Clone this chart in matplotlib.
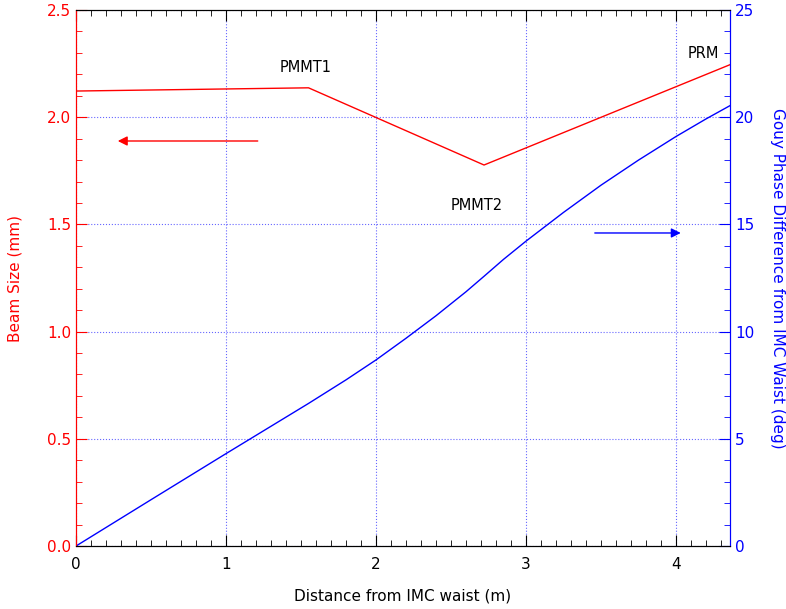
import numpy as np
import matplotlib.pyplot as plt
from matplotlib.ticker import MultipleLocator

# beam size (mm) vs distance from IMC waist (m)
dist_beam = [0.0, 1.55, 2.72, 4.36]
beam_size = [2.122, 2.137, 1.777, 2.245]

# gouy phase (deg)
dist_gouy = [0.0, 0.5, 1.0, 1.55, 1.8, 2.0, 2.2, 2.4, 2.6, 2.72, 2.85,
             3.0, 3.25, 3.5, 3.75, 4.0, 4.2, 4.36]
gouy_phase = [0.0, 2.16, 4.31, 6.65, 7.75, 8.68, 9.69, 10.74, 11.86, 12.58, 13.37,
              14.22, 15.56, 16.83, 18.0, 19.1, 19.92, 20.54]

optics = ['PMMT1', 'PMMT2', 'PRM']
optic_x = [1.53, 2.67, 4.18]
optic_y = [2.234, 1.59, 2.295]

plt.rcParams['font.family'] = 'DejaVu Sans'
fig = plt.figure(figsize=(7.86, 6.09), dpi=100)
ax = fig.add_axes([0.0967, 0.1034, 0.8321, 0.8802])
ax2 = ax.twinx()

ax.plot(dist_beam, beam_size, color='red', lw=1)
ax2.plot(dist_gouy, gouy_phase, color='blue', lw=1)

ax.set_xlim(0, 4.36)
ax.set_ylim(0, 2.5)
ax2.set_ylim(0, 25)

ax.xaxis.set_major_locator(MultipleLocator(1))
ax.xaxis.set_minor_locator(MultipleLocator(0.1))
ax.yaxis.set_major_locator(MultipleLocator(0.5))
ax.yaxis.set_minor_locator(MultipleLocator(0.1))
ax2.yaxis.set_major_locator(MultipleLocator(5))
ax2.yaxis.set_minor_locator(MultipleLocator(1))
ax.yaxis.set_major_formatter(plt.FormatStrFormatter('%.1f'))

ax.grid(True, which='major', color='blue', ls=':', lw=0.8, alpha=0.6)

ax.tick_params(axis='x', which='both', direction='in', top=True, colors='black', labelsize=11, pad=8)
ax.tick_params(axis='x', which='major', length=8)
ax.tick_params(axis='x', which='minor', length=4)
ax.tick_params(axis='y', which='both', direction='in', colors='red', labelsize=11)
ax.tick_params(axis='y', which='major', length=8)
ax.tick_params(axis='y', which='minor', length=4)
ax2.tick_params(axis='y', which='both', direction='in', colors='blue', labelsize=11)
ax2.tick_params(axis='y', which='major', length=8)
ax2.tick_params(axis='y', which='minor', length=4)

ax2.spines['left'].set_color('red')
ax2.spines['right'].set_color('blue')
ax.spines['left'].set_color('red')
ax.spines['right'].set_color('blue')

ax.set_xlabel('Distance from IMC waist (m)', fontsize=11, labelpad=12)
ax.set_ylabel('Beam Size (mm)', color='red', fontsize=11, labelpad=18)
ax2.set_ylabel('Gouy Phase Difference from IMC Waist (deg)', color='blue',
               fontsize=11, rotation=-90, labelpad=22)

for name, x, y in zip(optics, optic_x, optic_y):
    ax.text(x, y, name, ha='center', va='center', fontsize=10.5)

ax.annotate('', xy=(0.26, 1.889), xytext=(1.23, 1.889),
            arrowprops=dict(arrowstyle='-|>', color='red', lw=1, mutation_scale=14))
ax2.annotate('', xy=(4.05, 14.6), xytext=(3.44, 14.6),
             arrowprops=dict(arrowstyle='-|>', color='blue', lw=1, mutation_scale=14))

fig.savefig('out.png', dpi=100)
